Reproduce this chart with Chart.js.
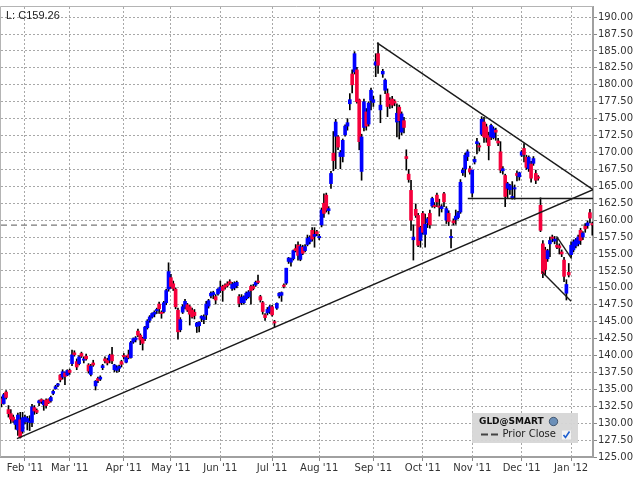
<!DOCTYPE html>
<html>
<head>
<meta charset="utf-8">
<script src="https://cdn.jsdelivr.net/npm/chart.js@4.4.0/dist/chart.umd.min.js"></script>
<style>
  html, body { margin: 0; padding: 0; background: #fff; }
  #wrap { width: 640px; height: 480px; }
</style>
</head>
<body>
<div id="wrap"><canvas id="chart"></canvas></div>
<script>
// daily GLD candles, one row per month (Jan '11 from the 18th ... Jan '12)
const opens = [
  133.6,132.9,134.6,132.0,131.4,130.9,129.8,129.0,130.5,128.8,
  130.2,130.2,130.1,130.1,132.3,131.9,133.0,133.5,132.7,133.4,133.5,133.3,134.4,135.1,135.6,137.1,136.8,137.4,137.1,
  137.8,138.8,140.4,139.1,138.8,140.3,139.3,139.9,138.6,137.2,138.9,135.5,136.6,136.5,138.2,139.5,139.3,139.3,140.1,137.9,137.8,138.1,139.1,
  140.0,139.0,140.1,139.7,142.0,142.3,143.6,143.0,142.5,142.5,144.1,145.2,145.7,146.1,146.6,147.6,146.4,146.5,147.8,149.8,
  151.5,150.6,149.8,146.7,143.8,146.4,147.2,147.5,147.2,146.7,146.4,144.3,144.4,145.5,145.3,146.0,147.3,148.8,149.0,148.7,149.1,
  149.6,150.2,150.4,150.6,150.9,149.9,150.0,150.3,148.7,147.8,147.8,148.4,148.7,150.2,150.2,150.4,151.0,148.7,147.8,146.0,146.3,146.5,
  147.2,145.0,147.0,148.8,148.9,150.4,150.7,153.9,153.8,154.3,155.8,156.3,154.2,156.0,155.5,156.4,156.8,158.5,157.6,158.3,
  157.4,159.3,162.5,163.7,161.4,165.4,169.9,172.4,172.3,169.4,169.4,172.6,173.9,177.2,181.6,181.9,182.2,177.8,167.2,173.7,176.0,174.2,177.7,
  177.4,182.9,184.6,176.3,181.6,179.2,178.7,177.7,177.9,177.6,174.5,176.7,173.0,174.7,169.4,166.8,164.4,157.1,161.6,160.7,157.0,
  161.0,157.9,159.6,161.0,162.1,162.2,163.7,162.1,161.7,163.9,160.0,161.0,157.4,159.9,160.1,160.4,161.2,167.0,167.6,169.4,167.6,
  164.0,168.6,171.3,171.0,172.7,174.5,173.8,172.5,172.3,172.2,173.3,171.7,170.1,167.3,166.6,164.7,164.5,163.2,164.6,166.9,166.4,
  169.6,170.6,169.3,167.6,168.3,168.4,166.9,166.4,162.2,156.5,155.6,154.3,156.5,157.5,156.9,156.3,156.2,155.3,154.1,149.2,152.3,
  154.9,155.6,156.2,156.5,158.5,157.5,159.1,159.2,161.1,159.5
];
const highs = [
  133.9,134.4,134.8,132.6,132.0,131.2,130.5,131.5,131.6,131.6,
  131.2,131.0,131.1,132.8,132.6,132.1,133.4,133.6,133.4,133.6,133.6,134.0,134.9,135.6,135.9,137.2,137.9,137.6,137.9,
  138.0,140.8,140.7,139.5,140.0,140.5,139.8,140.2,138.8,138.7,139.3,136.3,136.8,137.0,138.7,139.8,139.6,140.2,141.2,138.7,138.5,138.6,139.3,
  140.3,139.9,140.8,142.1,142.6,142.8,143.9,143.2,142.7,144.3,145.3,145.9,146.3,146.6,147.0,147.9,146.6,148.0,149.8,153.7,
  152.0,151.0,150.0,147.0,145.6,147.5,148.3,147.7,147.4,147.0,146.8,144.9,145.0,145.9,146.0,148.0,148.3,149.4,149.5,149.0,149.9,
  151.0,150.4,150.6,150.9,151.2,150.8,150.9,151.0,149.0,149.0,148.8,149.4,149.6,150.4,150.5,151.0,151.9,148.9,148.0,146.2,147.1,147.4,
  147.4,145.2,147.8,149.3,149.4,150.6,152.9,154.5,154.4,155.6,156.4,156.8,156.4,156.3,156.4,157.8,157.7,158.9,158.9,158.5,
  157.9,161.8,163.9,164.0,162.0,167.2,173.1,174.9,172.5,170.3,172.0,174.1,175.0,178.7,182.2,184.9,182.6,177.9,172.7,177.9,176.5,177.5,179.5,
  178.3,184.6,186.2,178.5,182.3,180.9,179.4,178.1,178.3,177.8,177.2,177.0,176.0,175.2,170.4,167.5,165.9,159.3,162.4,161.0,159.1,
  161.3,160.9,160.4,161.5,163.4,162.6,164.0,163.1,162.3,164.1,162.0,161.4,158.6,160.2,161.5,161.3,166.0,167.7,169.9,170.4,168.0,
  167.4,169.4,172.1,171.4,175.3,175.2,174.2,173.0,174.2,173.8,173.6,172.1,171.6,167.9,166.8,165.6,165.3,165.7,165.2,167.3,167.1,
  170.3,171.3,169.6,169.5,168.7,169.4,167.4,166.6,163.3,157.0,156.0,155.7,157.5,157.8,157.6,157.4,156.5,155.6,154.5,151.2,153.6,
  156.8,157.1,157.3,157.8,158.8,158.3,159.5,159.9,161.6,159.7
];
const lows = [
  132.4,132.8,133.6,130.9,130.0,130.1,129.1,128.2,127.8,128.5,
  129.9,129.0,128.9,129.5,131.3,131.4,132.6,132.9,131.9,132.2,132.9,133.1,134.2,135.0,135.4,136.1,136.5,135.7,137.0,
  137.2,138.5,139.9,137.9,138.6,139.7,138.9,139.3,137.4,137.0,138.4,134.9,136.0,136.3,137.9,138.9,138.6,138.9,138.8,137.6,137.5,137.6,138.3,
  139.5,138.9,139.5,139.6,141.8,142.0,142.8,141.6,140.8,142.2,143.9,144.9,145.5,145.7,146.2,146.2,145.5,146.3,147.5,149.5,
  149.9,149.6,146.9,142.4,143.5,146.2,146.9,146.5,144.5,145.5,145.4,143.4,143.5,145.0,144.7,145.3,147.0,148.5,148.4,147.6,148.9,
  149.3,148.0,149.8,150.1,150.5,149.6,149.7,150.0,147.2,147.5,147.6,148.2,148.5,147.6,149.7,150.2,150.6,147.9,146.1,145.2,146.0,146.2,
  145.8,144.2,146.8,148.5,148.0,150.0,150.5,153.6,153.2,154.1,155.3,154.1,154.0,154.9,155.3,156.2,156.5,156.9,156.0,157.7,
  157.1,159.0,160.4,161.2,160.9,164.7,167.3,167.6,170.4,167.6,168.6,172.4,173.3,176.3,178.8,181.6,177.3,170.4,165.9,173.2,173.3,173.9,176.3,
  176.8,181.2,181.7,174.4,181.1,178.7,175.3,176.5,176.6,176.9,172.3,172.0,172.6,172.9,167.4,165.6,158.5,154.1,160.4,156.1,156.0,
  157.9,156.0,158.9,158.8,161.9,161.8,162.0,160.6,161.2,162.0,159.5,159.2,155.9,159.3,159.4,160.2,161.0,166.6,166.4,168.8,166.8,
  163.4,168.3,169.8,170.2,172.5,171.5,171.5,168.9,171.9,172.0,171.8,171.0,167.0,166.8,162.0,163.2,163.8,163.1,163.1,165.8,165.9,
  169.4,168.6,167.5,167.2,165.6,168.1,165.4,165.9,158.3,151.5,151.9,153.9,154.6,156.8,156.5,155.8,155.0,154.6,150.9,148.2,151.6,
  154.5,155.3,155.9,156.2,156.4,157.1,158.2,158.8,159.6,157.8
];
const closes = [
  132.9,134.2,133.8,131.4,130.6,130.3,130.4,131.2,127.9,130.8,
  130.9,130.7,130.3,132.4,131.8,131.6,133.3,133.2,133.3,132.6,133.0,133.8,134.7,135.4,135.8,136.4,137.6,136.9,137.8,
  137.5,140.1,140.1,138.3,139.8,139.9,139.5,139.5,137.7,138.4,138.6,136.2,136.3,136.8,138.5,139.2,138.9,140.0,139.2,138.6,138.2,138.4,138.7,
  139.8,139.7,139.7,141.9,142.5,142.6,143.0,142.3,141.8,144.2,145.1,145.7,146.2,146.4,146.8,146.9,146.2,147.8,149.6,152.4,
  150.2,149.9,147.2,143.5,145.3,147.2,148.0,146.7,146.1,145.7,145.9,144.8,144.9,145.8,145.7,147.6,148.1,149.2,149.3,148.2,149.8,
  150.1,149.6,150.1,150.3,150.7,150.5,150.7,150.8,147.7,148.6,148.7,149.2,149.4,149.6,149.9,150.8,150.8,148.2,146.5,145.6,146.8,147.2,
  146.0,144.8,147.7,149.2,149.3,150.2,152.9,154.4,154.3,155.5,155.5,154.8,156.1,155.1,156.1,157.3,157.5,157.2,157.9,158.0,
  157.6,161.5,161.0,161.5,161.7,166.9,168.8,174.5,170.8,170.0,171.8,173.9,174.4,177.8,180.0,184.6,177.5,171.6,172.3,177.5,173.9,177.3,179.2,
  177.8,183.4,182.9,177.0,182.0,180.7,176.8,177.2,177.0,177.3,175.8,174.7,175.7,173.7,169.1,166.0,160.0,157.5,160.7,156.3,158.9,
  158.2,159.4,160.2,159.3,163.2,162.0,162.7,161.9,162.0,162.7,161.7,159.8,157.6,159.6,160.6,161.1,165.6,167.4,169.6,170.1,167.1,
  167.4,169.0,171.6,170.8,174.9,172.3,172.2,171.0,174.0,173.5,173.0,171.4,167.4,167.6,163.5,165.4,165.1,163.5,164.8,166.6,167.0,
  170.1,169.7,167.8,169.3,166.2,169.1,165.9,166.2,158.5,152.1,152.7,155.5,157.0,157.3,157.2,156.0,155.9,155.0,151.7,150.5,151.9,
  156.3,156.8,157.1,157.5,157.0,158.1,158.7,159.6,160.3,159.3
];

// first trading day of each month, as candle index
const monthTicks = [10, 29, 52, 72, 93, 115, 135, 158, 179, 200, 221, 242];
const monthLabels = ["Feb '11", "Mar '11", "Apr '11", "May '11", "Jun '11", "Jul '11",
  "Aug '11", "Sep '11", "Oct '11", "Nov '11", "Dec '11", "Jan '12"];
const priceTicks = [125, 127.5, 130, 132.5, 135, 137.5, 140, 142.5, 145, 147.5, 150, 152.5,
  155, 157.5, 160, 162.5, 165, 167.5, 170, 172.5, 175, 177.5, 180, 182.5, 185, 187.5, 190];
const priorClose = 159.26;

// hand drawn trend lines: [start, end] in candle index / price
const supportX = [6.6, 251.3];
const supportY = [127.7, 164.5];
const resistX = [159.6, 251.3];
const resistY = [186.2, 164.5];
const floorX = [198.1, 251.3];
const floorY = [163.2, 163.2];
const decLowX = [229.5, 242.0];
const decLowY = [152.4, 148.0];
const decHighX = [235.8, 242.2];
const decHighY = [157.6, 154.3];

const xMin = -0.17;
const xMax = 251.3;
const upColor = "#0000ff";
const downColor = "#f5003c";

function linePoints(xs, ys) {
  return xs.map((x, i) => ({ x: x, y: ys[i] }));
}

function trendDataset(xs, ys) {
  return {
    type: "line",
    data: linePoints(xs, ys),
    borderColor: "#1a1a1a",
    borderWidth: 1.4,
    pointRadius: 0,
    fill: false,
    order: 0
  };
}

let wickData = lows.map((low, i) => ({ x: i, y: [low, highs[i]] }));
let bodyData = opens.map((open, i) => ({ x: i, y: [open, closes[i]] }));
let bodyColors = opens.map((open, i) => (closes[i] >= open ? upColor : downColor));

const overlayPlugin = {
  id: "overlay",
  afterDraw(chart) {
    let { ctx, chartArea } = chart;
    ctx.save();
    // left and top frame
    ctx.strokeStyle = "#b4b4b4";
    ctx.lineWidth = 1;
    ctx.beginPath();
    ctx.moveTo(chartArea.left - 0.5, chartArea.bottom);
    ctx.lineTo(chartArea.left - 0.5, chartArea.top - 0.5);
    ctx.lineTo(chartArea.right, chartArea.top - 0.5);
    ctx.stroke();

    // status text
    ctx.fillStyle = "#222";
    ctx.font = '11px "Liberation Sans"';
    ctx.textBaseline = "middle";
    ctx.fillText("L: C" + priorClose.toFixed(2), 6, 15.5);

    // legend box
    ctx.fillStyle = "rgba(214,214,214,0.95)";
    ctx.fillRect(472, 413, 106, 30);
    ctx.fillStyle = "#111";
    ctx.font = 'bold 9px "DejaVu Sans"';
    ctx.fillText("GLD@SMART", 479, 421.5);
    ctx.fillStyle = "#6b8fb8";
    ctx.beginPath();
    ctx.arc(553.5, 421.5, 4.2, 0, Math.PI * 2);
    ctx.fill();
    ctx.strokeStyle = "#2f435c";
    ctx.lineWidth = 0.8;
    ctx.stroke();

    ctx.strokeStyle = "#444";
    ctx.lineWidth = 2;
    ctx.beginPath();
    ctx.moveTo(481, 434.5);
    ctx.lineTo(488, 434.5);
    ctx.moveTo(491, 434.5);
    ctx.lineTo(498, 434.5);
    ctx.stroke();
    ctx.fillStyle = "#222";
    ctx.font = '10px "DejaVu Sans"';
    ctx.fillText("Prior Close", 502.5, 434.5);

    ctx.fillStyle = "#f4f4f4";
    ctx.fillRect(562, 430.5, 9, 9);
    ctx.strokeStyle = "#1e5fd0";
    ctx.lineWidth = 1.6;
    ctx.beginPath();
    ctx.moveTo(563.5, 435);
    ctx.lineTo(565.5, 437.5);
    ctx.lineTo(569.5, 431.5);
    ctx.stroke();
    ctx.restore();
  }
};

Chart.defaults.font.family = '"DejaVu Sans"';

new Chart(document.getElementById("chart"), {
  type: "bar",
  data: {
    datasets: [
      trendDataset(supportX, supportY),
      trendDataset(resistX, resistY),
      trendDataset(floorX, floorY),
      trendDataset(decLowX, decLowY),
      trendDataset(decHighX, decHighY),
      {
        type: "bar",
        data: bodyData,
        backgroundColor: bodyColors,
        barThickness: 3,
        minBarLength: 1,
        grouped: false,
        order: 1
      },
      {
        type: "bar",
        data: wickData,
        backgroundColor: "#000",
        barThickness: 1,
        grouped: false,
        order: 2
      },
      {
        type: "line",
        data: linePoints([xMin, xMax], [priorClose, priorClose]),
        borderColor: "#7a7a7a",
        borderWidth: 1.4,
        borderDash: [6, 4],
        pointRadius: 0,
        fill: false,
        order: 3
      }
    ]
  },
  options: {
    responsive: true,
    maintainAspectRatio: false,
    animation: false,
    events: [],
    layout: { padding: { left: 1, top: 7, right: 0, bottom: 0 } },
    plugins: { legend: { display: false }, tooltip: { enabled: false } },
    scales: {
      x: {
        type: "linear",
        min: xMin,
        max: xMax,
        offset: false,
        afterBuildTicks: scale => {
          scale.ticks = monthTicks.map(v => ({ value: v }));
        },
        afterFit: scale => {
          scale.height = 23;
        },
        ticks: {
          autoSkip: false,
          maxRotation: 0,
          padding: 1,
          color: "#333",
          font: { size: 10 },
          callback: (value, index) => monthLabels[index]
        },
        grid: { offset: false, color: "#a8a8a8", tickLength: 4, tickColor: "#888", tickBorderDash: [] },
        border: { color: "#a0a0a0", width: 2, dash: [2, 2] }
      },
      y: {
        position: "right",
        min: 125,
        max: 191.5,
        afterBuildTicks: scale => {
          scale.ticks = priceTicks.map(v => ({ value: v }));
        },
        afterFit: scale => {
          scale.width = 47;
        },
        ticks: {
          padding: 1,
          color: "#333",
          font: { size: 10 },
          callback: value => value.toFixed(2)
        },
        grid: { color: "#a8a8a8", tickLength: 4, tickColor: "#888", tickBorderDash: [] },
        border: { color: "#a0a0a0", width: 2, dash: [2, 2] }
      }
    }
  },
  plugins: [overlayPlugin]
});
</script>
</body>
</html>
